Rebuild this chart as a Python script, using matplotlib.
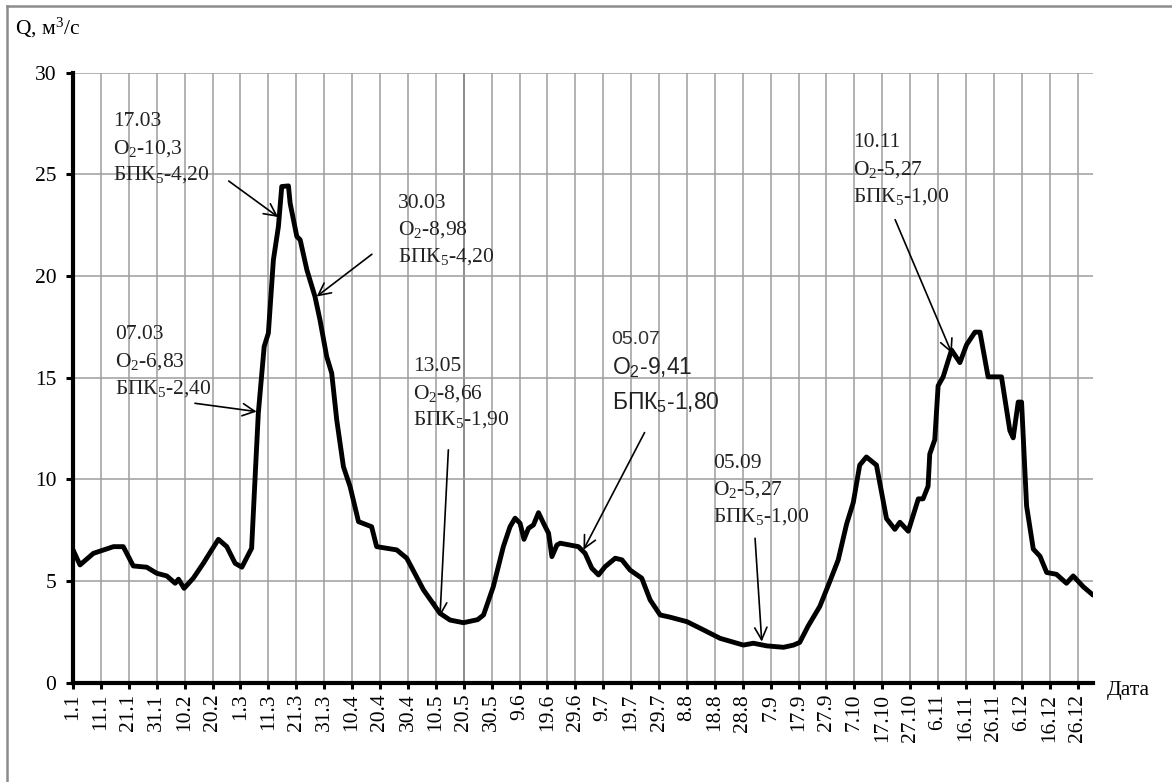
import matplotlib
matplotlib.use("Agg")
import matplotlib.pyplot as plt
from matplotlib.lines import Line2D

# daily discharge (day 0 = 1 Jan, leap year)
days = [0, 2.5, 7.3, 14.5, 18, 21.6, 26.4, 30, 33.6, 36.6, 37.8, 39.8, 43.1,
        46.7, 49.7, 52.1, 55.1, 58.1, 60.5, 64, 65.2, 66.4, 68.5, 70, 71.8,
        73.6, 74.8, 77.2, 77.8, 80.2, 81.4, 83.8, 86.7, 88.5, 90.9, 92.7,
        94.5, 96.9, 99.3, 102.3, 107, 108.8, 116, 119.6, 125.6, 131.5, 135.1,
        139.9, 145, 147.1, 150.6, 154.2, 156.6, 158.4, 160.2, 161.6, 163.2,
        165, 166.8, 168.6, 170.4, 171.6, 173.4, 174.6, 181.1, 183.5, 185.9,
        188.3, 190.7, 194.3, 196.7, 199.6, 203.8, 206.8, 210.4, 214, 220,
        224.7, 231.9, 240.2, 243.8, 248.6, 254.6, 258.2, 260.4, 263.4, 267.6,
        271.2, 274.2, 277.2, 279.6, 281.9, 284.3, 287.9, 291.5, 294.5, 296.3,
        299.3, 302.9, 304.6, 306.4, 307, 308.8, 310, 311.8, 314.8, 317.8,
        320.2, 323.2, 325, 327.9, 332.7, 335.7, 336.9, 338.7, 339.9, 341.7,
        344.1, 346.5, 348.9, 352.4, 356, 358.4, 362, 365.5]
flow = [6.53, 5.79, 6.36, 6.69, 6.69, 5.74, 5.68, 5.38, 5.25, 4.89, 5.09, 4.64,
        5.14, 5.87, 6.53, 7.05, 6.69, 5.87, 5.68, 6.61, 9.97, 13.25, 16.53,
        17.19, 20.79, 22.43, 24.4, 24.43, 23.58, 21.94, 21.78, 20.3, 18.99,
        17.84, 16.04, 15.22, 12.92, 10.62, 9.64, 7.92, 7.67, 6.69, 6.53, 6.12,
        4.56, 3.41, 3.08, 2.95, 3.1, 3.33, 4.72, 6.69, 7.67, 8.09, 7.84, 7.05,
        7.59, 7.76, 8.36, 7.84, 7.35, 6.2, 6.77, 6.86, 6.69, 6.36, 5.63, 5.3,
        5.71, 6.12, 6.04, 5.54, 5.14, 4.07, 3.33, 3.22, 3.0, 2.68, 2.18, 1.85,
        1.94, 1.81, 1.74, 1.85, 1.98, 2.78, 3.75, 4.98, 6.04, 7.8, 8.86, 10.7,
        11.1, 10.7, 8.07, 7.54, 7.89, 7.45, 9.04, 9.04, 9.66, 11.24, 11.95,
        14.6, 15.04, 16.36, 15.74, 16.62, 17.24, 17.24, 15.04, 15.04, 12.4,
        12.04, 13.8, 13.8, 8.69, 6.57, 6.22, 5.42, 5.33, 4.89, 5.25, 4.72,
        4.31]

tick_days = list(range(0, 361, 10))
tick_labels = ["1.1", "11.1", "21.1", "31.1", "10.2", "20.2", "1.3", "11.3",
               "21.3", "31.3", "10.4", "20.4", "30.4", "10.5", "20.5", "30.5",
               "9.6", "19.6", "29.6", "9.7", "19.7", "29.7", "8.8", "18.8",
               "28.8", "7.9", "17.9", "27.9", "7.10", "17.10", "27.10", "6.11",
               "16.11", "26.11", "6.12", "16.12", "26.12"]

note_dates = ["17.03", "30.03", "07.03", "13.05", "05.07", "05.09", "10.11"]
note_o2 = ["10,3", "8,98", "6,83", "8,66", "9,41", "5,27", "5,27"]
note_bpk = ["4,20", "4,20", "2,40", "1,90", "1,80", "1,00", "1,00"]

plt.rcParams['font.family'] = ['Liberation Serif', 'DejaVu Serif']
plt.rcParams['mathtext.fontset'] = 'custom'
plt.rcParams['mathtext.rm'] = 'Liberation Serif'
plt.rcParams['mathtext.it'] = 'Liberation Serif:italic'
plt.rcParams['mathtext.sf'] = 'Liberation Sans'

fig = plt.figure(figsize=(11.72, 7.82), dpi=100)
ax = fig.add_axes([0.0623, 0.127, 0.8703, 0.7801])

ax.plot(days, flow, color='black', lw=3.5, solid_joinstyle='round',
        solid_capstyle='round', zorder=3)

ax.set_xlim(0, 365.5)
ax.set_ylim(0, 30)
ax.set_xticks(tick_days)
ax.set_xticklabels(tick_labels, rotation=90, fontsize=15.5)
ax.set_yticks(range(0, 31, 5))
ax.tick_params(axis='y', labelsize=15.5, length=5, width=2.2, pad=7)
ax.tick_params(axis='x', length=4, width=2.2, pad=4)

ax.grid(True, color='#9e9e9e', lw=1.1)
ax.set_axisbelow(True)
ax.get_xgridlines()[14].set_color('#6e6e6e')
for side in ['top', 'right']:
    ax.spines[side].set_visible(False)
for side in ['left', 'bottom']:
    ax.spines[side].set_linewidth(3)
    ax.spines[side].set_zorder(4)

# annotation layout: text anchor (day, Q of first line), arrow tail, arrow tip
step = 1.31
note_xy = [(14.3, 27.6), (116.5, 23.58), (15.1, 17.1), (121.9, 15.54),
           (193, 16.86), (229.5, 10.79), (279.6, 26.55)]
arrow_from = [(55.8, 24.67), (107.1, 21.07), (43.7, 13.74), (134.5, 11.45),
              (204.8, 12.3), (244.4, 7.1), (294.6, 22.77)]
arrow_to = [(73.5, 22.9), (87.3, 18.99), (65.8, 13.33), (131.5, 3.25),
            (182.9, 6.53), (246.8, 2.02), (314.9, 16.2)]

for i in range(len(note_dates)):
    x, y = note_xy[i]
    if note_dates[i] == "05.07":
        ax.text(x, y, note_dates[i], fontsize=14, family='Liberation Sans',
                color='#333333', va='center')
        ax.text(x, y - 1.4, "O$_{\\mathsf{2}}$-" + note_o2[i], fontsize=16.5,
                family='Liberation Sans', color='#222222', va='center')
        ax.text(x, y - 3.12, "БПК$_{\\mathsf{5}}$-" + note_bpk[i], fontsize=16.5,
                family='Liberation Sans', color='#222222', va='center')
    else:
        ax.text(x, y, note_dates[i], fontsize=15.5, color='#222222', va='center')
        ax.text(x, y - step, "O$_{2}$-" + note_o2[i], fontsize=15.5,
                color='#222222', va='center')
        ax.text(x, y - 2 * step, "БПК$_{5}$-" + note_bpk[i], fontsize=15.5,
                color='#222222', va='center')
    ax.annotate("", xy=arrow_to[i], xytext=arrow_from[i],
                arrowprops=dict(arrowstyle='->', lw=1.2, color='black',
                                mutation_scale=22, shrinkA=0, shrinkB=0),
                zorder=5)

fig.text(15 / 1172, 1 - 28 / 782, "Q, м$^{3}$/с", fontsize=15.5, va='center')
fig.text(1107 / 1172, 1 - 691 / 782, "Дата", fontsize=15.5, va='center')

# outer frame of the original picture (top and left edges only)
fig.add_artist(Line2D([7 / 1172, 1], [1 - 6 / 782, 1 - 6 / 782],
                      transform=fig.transFigure, color='#8c8c8c', lw=1.8))
fig.add_artist(Line2D([7 / 1172, 7 / 1172], [0, 1 - 6 / 782],
                      transform=fig.transFigure, color='#8c8c8c', lw=1.8))

fig.savefig("out.png", dpi=100)
